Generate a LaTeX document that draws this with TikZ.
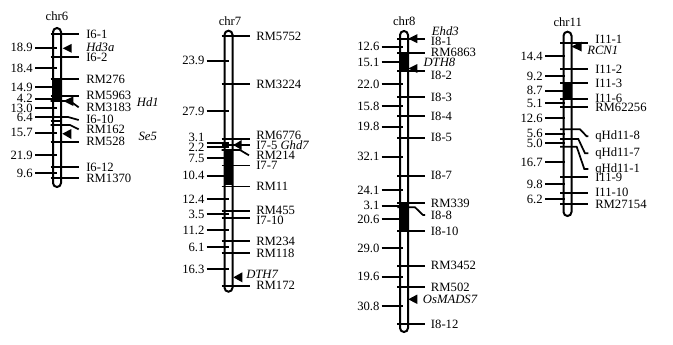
\documentclass[tikz,border=0pt]{standalone}
\usepackage{fontspec}
\setmainfont{Liberation Serif}
\newcommand{\kartenschrift}{\fontsize{9.5}{11}\selectfont}

\begin{document}
\begin{tikzpicture}[x=0.75pt,y=-0.75pt,
		chrom/.style={line width=1.5pt, rounded corners=3pt},
		strich/.style={line width=1.3pt},
		beschr/.style={anchor=west, inner sep=0pt, font=\kartenschrift},
		abst/.style={anchor=east, inner sep=0pt, font=\kartenschrift},
		gen/.style={anchor=west, inner sep=0pt, font=\kartenschrift\itshape},
		titel/.style={inner sep=0pt, font=\kartenschrift}]
		\useasboundingbox (0,0) rectangle (673,344);
		
		% Chromosom 6
		\node[titel] (t6) at (57,16) {chr6};
		\fill (53,77.7) rectangle (60.3,101); % Block
		\foreach \y/\ly/\t [count=\i] in {47.7/47.7/18.9, 68.3/68.3/18.4, 87.3/87.3/14.9, 99/98.5/4.2, 108.3/108.3/13.0, 117.3/117.7/6.4, 132.7/132.7/15.7, 155/155/21.9, 173.3/173.3/9.6}{
			\draw[strich] (35,\y) -- (57,\y);
			\node[abst] (l6-\i) at (33,\ly) {\t};}
		\foreach \y/\ly/\t [count=\i] in {34.3/34.3/I6-1, 57.3/57.3/I6-2, 79.3/79.3/RM276, 95.7/95.7/RM5963, 141.7/141.7/RM528, 167.3/167.3/I6-12, 178.3/178.3/RM1370}{
			\draw[strich] (50.7,\y) -- (78.7,\y);
			\node[beschr] (r6-\i) at (86,\ly) {\t};}
		\draw[strich] (50.7,101) -- (70,101) -- (78.7,107.3);
		\node[beschr] (m6-1) at (86,107.3) {RM3183};
		\draw[strich] (50.7,117) -- (68,117) -- (78.7,120);
		\node[beschr] (m6-2) at (86,119) {I6-10};
		\draw[strich] (50.7,121.3) -- (61,121.3);
		\draw[strich] (50.7,125) -- (70,125) -- (78.7,129.3);
		\node[beschr] (m6-3) at (86,129) {RM162};
		\draw[chrom] (53,28) rectangle (61,187);
		% Gene
		\fill (62.7,48.3) -- (71.7,43.8) -- (71.7,52.8) -- cycle;
		\node[gen] (g6-1) at (86,47) {Hd3a};
		\fill (63.3,101) -- (73.3,96.5) -- (73.3,106) -- cycle;
		\node[gen] (g6-2) at (136.7,101.7) {Hd1};
		\fill (62.3,133.7) -- (71.3,129) -- (71.3,139) -- cycle;
		\node[gen] (g6-3) at (138.3,136.7) {Se5};
		
		% Chromosom 7
		\node[titel] (t7) at (230,20.7) {chr7};
		\fill (224.5,150.7) rectangle (231.8,185); % Block
		\foreach \y/\ly/\t [count=\i] in {60.7/60.7/23.9, 111/111/27.9, 142.7/137.3/3.1, 146.7/147/2.2, 158/158.5/7.5, 175.7/175.7/10.4, 199/199/12.4, 214.3/214.3/3.5, 230/230/11.2, 247.3/247.3/6.1, 269.3/269.3/16.3}{
			\draw[strich] (206.7,\y) -- (229,\y);
			\node[abst] (l7-\i) at (204.7,\ly) {\t};}
		\foreach \y/\ly/\t [count=\i] in {36/36/RM5752, 84/84/RM3224, 139/135.8/RM6776, 165.5/165.3/I7-7, 186.5/186.5/RM11, 211.3/210.5/RM455, 218.3/220/I7-10, 241/241/RM234, 253.3/253.3/RM118, 285.7/285.7/RM172}{
			\draw[strich] (221.7,\y) -- (250,\y);
			\node[beschr] (r7-\i) at (256,\ly) {\t};}
		\draw[strich] (221.7,145) -- (250,145);
		\node[beschr] (m7-1) at (256,145.5) {I7-5 \textit{Ghd7}};
		\draw[strich] (221.7,150) -- (240,150) -- (249,155.3);
		\node[beschr] (m7-2) at (256,155.5) {RM214};
		\draw[chrom] (224.5,30.7) rectangle (232.5,291.7);
		% Gene
		\fill (233.3,145) -- (241.7,140) -- (241.7,150) -- cycle;
		\fill (233.3,277.3) -- (242.3,272.3) -- (242.3,282.3) -- cycle;
		\node[gen] (g7-1) at (246,274) {DTH7};
		
		% Chromosom 8
		\node[titel] (t8) at (404.3,20.7) {chr8};
		\fill (400,53.3) rectangle (407.3,71.7); % Block oben
		\fill (400,203.3) rectangle (407.3,231.7); % Block unten
		\foreach \y/\ly/\t [count=\i] in {46.7/46.7/12.6, 62.3/62.3/15.1, 84/84/22.0, 106/106/15.8, 126.7/126.7/19.8, 156.7/156.7/32.1, 190/190/24.1, 205.7/205.7/3.1, 219/219/20.6, 248.3/248.3/29.0, 276.7/276.7/19.6, 306/306/30.8}{
			\draw[strich] (381.7,\y) -- (403.3,\y);
			\node[abst] (l8-\i) at (379.7,\ly) {\t};}
		\foreach \y/\ly/\t [count=\i] in {39/41/I8-1, 52.7/52.7/RM6863, 70.7/75/I8-2, 97.3/97.3/I8-3, 116/116/I8-4, 137.7/137.7/I8-5, 175.7/175.7/I8-7, 203.3/203.3/RM339, 231/231/I8-10, 265.7/265.7/RM3452, 287.3/287/RM502, 324.3/324.3/I8-12}{
			\draw[strich] (397.3,\y) -- (425,\y);
			\node[beschr] (r8-\i) at (430.7,\ly) {\t};}
		\draw[strich] (397.3,207.3) -- (415,207.3) -- (423,215) -- (425,215);
		\node[beschr] (m8-1) at (430.7,215) {I8-8};
		\draw[chrom] (400,31) rectangle (408,332);
		% Gene
		\fill (408.3,38.7) -- (417.3,34.2) -- (417.3,43.2) -- cycle;
		\node[gen] (g8-1) at (431.7,31.5) {Ehd3};
		\fill (408.3,68.5) -- (417.3,64) -- (417.3,73) -- cycle;
		\node[gen] (g8-2) at (423.3,62.5) {DTH8};
		\fill (408.3,299.3) -- (417.3,294.5) -- (417.3,304) -- cycle;
		\node[gen] (g8-3) at (422.7,299.3) {OsMADS7};
		
		% Chromosom 11
		\node[titel] (t11) at (567.7,21.7) {chr11};
		\fill (563.5,82.7) rectangle (570.8,99.3); % Block
		\foreach \y/\ly/\t [count=\i] in {56/56/14.4, 76/76/9.2, 90.7/90.7/8.7, 103.3/103.3/5.1, 118.3/118.3/12.6, 134/133.7/5.6, 143.3/143.5/5.0, 162.3/162.3/16.7, 184/184/9.8, 199.3/199.3/6.2}{
			\draw[strich] (545,\y) -- (565,\y);
			\node[abst] (l11-\i) at (543,\ly) {\t};}
		\foreach \y/\ly/\t [count=\i] in {42.7/39.3/I11-1, 69/69/I11-2, 83.3/83.3/I11-3, 98.7/98.3/I11-6, 107.3/107.7/RM62256, 176.7/177.7/I11-9, 192.7/192.5/I11-10, 204/204/RM27154}{
			\draw[strich] (560,\y) -- (588.3,\y);
			\node[beschr] (r11-\i) at (595,\ly) {\t};}
		\draw[strich] (560,129.3) -- (580,129.3) -- (586.7,136.3) -- (588.3,136.3);
		\node[beschr] (m11-1) at (595,136.7) {qHd11-8};
		\draw[strich] (560,139) -- (578.3,139) -- (585,153.3) -- (588.3,153.3);
		\node[beschr] (m11-2) at (595,153.5) {qHd11-7};
		\draw[strich] (560,146.7) -- (576.7,146.7) -- (584.3,169) -- (588.3,169);
		\node[beschr] (m11-3) at (595,169.3) {qHd11-1};
		\draw[chrom] (563.5,31.7) rectangle (571.5,216);
		% Gene
		\fill (571.3,46.5) -- (581.7,41.7) -- (581.7,51.5) -- cycle;
		\node[gen] (g11-1) at (587,50.7) {RCN1};
	\end{tikzpicture}
\end{document}
